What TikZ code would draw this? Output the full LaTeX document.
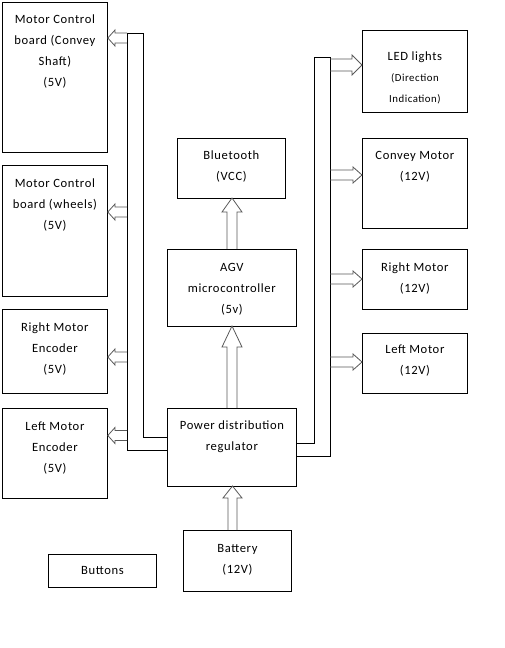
\documentclass[tikz,border=0pt]{standalone}
\usepackage{fontspec}
\setmainfont{Carlito}[LetterSpace=5]
\newcommand\mystrut{\rule{0pt}{10pt}}
\tikzset{
  x=1pt, y=-1pt,
  box/.style={draw=black, line width=0.8pt, inner sep=0pt, anchor=north west},
  txt/.style={align=center, inner sep=0pt, anchor=north,
    font=\fontsize{12.6pt}{21pt}\selectfont},
  bus/.style={draw=black, line width=0.8pt},
  barrow/.style={draw=black!65, line width=0.8pt, line join=miter},
}
\begin{document}
\begin{tikzpicture}
\useasboundingbox (0,0) rectangle (505,648);
% boxes
\node[box, minimum width=105pt, minimum height=150pt] (mcs) at (2,2) {};
\node[box, minimum width=105pt, minimum height=131pt] (mcw) at (2,165) {};
\node[box, minimum width=105pt, minimum height=84pt] (rme) at (2,309) {};
\node[box, minimum width=105pt, minimum height=90pt] (lme) at (2,408) {};
\node[box, minimum width=105pt, minimum height=82pt] (led) at (362,30) {};
\node[box, minimum width=105pt, minimum height=90pt] (cm) at (362,138) {};
\node[box, minimum width=105pt, minimum height=60pt] (rm) at (362,249) {};
\node[box, minimum width=105pt, minimum height=60pt] (lm) at (362,333) {};
\node[box, minimum width=108pt, minimum height=60pt] (bt) at (177,138) {};
\node[box, minimum width=129pt, minimum height=77pt] (agv) at (167,249) {};
\node[box, minimum width=129pt, minimum height=78pt] (pdr) at (167,408) {};
\node[box, minimum width=108pt, minimum height=61pt] (bat) at (183,530) {};
\node[box, minimum width=108pt, minimum height=33pt] (btn) at (48,554) {};
% texts
\node[txt] (mcs-t) at ([yshift=-11pt]mcs.north) {\mystrut Motor Control\\board (Convey\\Shaft)\\(5V)};
\node[txt] (mcw-t) at ([yshift=-12pt]mcw.north) {\mystrut Motor Control\\board (wheels)\\(5V)};
\node[txt] (rme-t) at ([yshift=-12pt]rme.north) {\mystrut Right Motor\\Encoder\\(5V)};
\node[txt] (lme-t) at ([yshift=-12pt]lme.north) {\mystrut Left Motor\\Encoder\\(5V)};
\node[txt] (led-t) at ([yshift=-20pt]led.north) {\mystrut LED lights\\{\fontsize{10.8pt}{21pt}\selectfont (Direction}\\{\fontsize{10.8pt}{21pt}\selectfont Indication)}};
\node[txt] (cm-t) at ([yshift=-11pt]cm.north) {\mystrut Convey Motor\\(12V)};
\node[txt] (rm-t) at ([yshift=-12pt]rm.north) {\mystrut Right Motor\\(12V)};
\node[txt] (lm-t) at ([yshift=-10pt]lm.north) {\mystrut Left Motor\\(12V)};
\node[txt] (bt-t) at ([yshift=-11pt]bt.north) {\mystrut Bluetooth\\(VCC)};
\node[txt] (agv-t) at ([yshift=-12pt]agv.north) {\mystrut AGV\\microcontroller\\(5v)};
\node[txt] (pdr-t) at ([yshift=-11pt]pdr.north) {\mystrut Power distribution\\regulator};
\node[txt] (bat-t) at ([yshift=-12pt]bat.north) {\mystrut Battery\\(12V)};
\node[txt, anchor=center] (btn-t) at (btn.center) {Buttons};
% left bus
\draw[bus] (127,33) -- (143,33) -- (143,437) -- (pdr.west |- 0,437) -- (pdr.west |- 0,450) -- (127,450) -- cycle;
% right bus
\draw[bus] (pdr.east |- 0,443) -- (314,443) -- (314,57) -- (330,57) -- (330,456) -- (pdr.east |- 0,456);
% left-pointing block arrows (tip at box east)
\foreach \b/\yy in {mcs/38, mcw/212, rme/357, lme/435.5}{
  \draw[barrow] (127,\yy-5) -- (115,\yy-5) -- (115,\yy-8) -- (\b.east |- 0,\yy) -- (115,\yy+8) -- (115,\yy+5) -- (127,\yy+5);
}
% right-pointing block arrows
\draw[barrow] (330,59) -- (352,59) -- (352,55) -- (led.west |- 0,65) -- (352,75) -- (352,71) -- (330,71);
\foreach \b/\yy in {cm/175, rm/279, lm/362}{
  \draw[barrow] (330,\yy-5) -- (353,\yy-5) -- (353,\yy-8) -- (\b.west |- 0,\yy) -- (353,\yy+8) -- (353,\yy+5) -- (330,\yy+5);
}
% vertical block arrows
\draw[barrow] (227,249) -- (227,212) -- (222,212) -- (232,198) -- (242,212) -- (237,212) -- (237,249);
\draw[barrow] (227,408) -- (227,347) -- (222,347) -- (232,326) -- (242,347) -- (237,347) -- (237,408);
\draw[barrow] (228,530) -- (228,498) -- (223,498) -- (232.5,486) -- (242,498) -- (237,498) -- (237,530);
\end{tikzpicture}
\end{document}
